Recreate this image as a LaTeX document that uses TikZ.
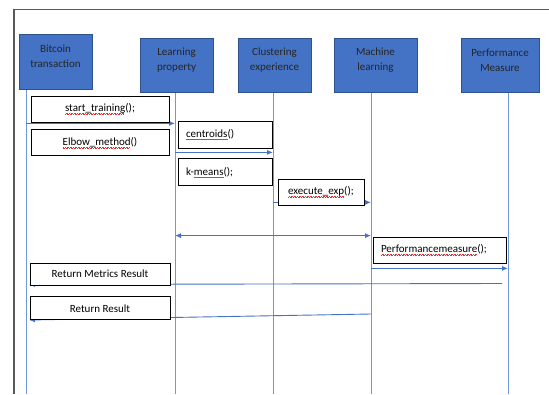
\documentclass[tikz,border=0pt]{standalone}
\usepackage{fontspec}
\setmainfont{Carlito}
\usetikzlibrary{arrows.meta,positioning,backgrounds}
\definecolor{actorfill}{HTML}{4472C4}
\definecolor{actordraw}{HTML}{2F528F}
\definecolor{lifeblue}{HTML}{6F97DA}
\definecolor{msgblue}{HTML}{4472C4}
\definecolor{framegray}{HTML}{595959}
\definecolor{spellred}{HTML}{E03030}
\definecolor{spellblue}{HTML}{3A6FD0}
\newsavebox{\spellbox}
\newcommand{\spellwave}[1]{\sbox{\spellbox}{#1}\rlap{\textcolor{spellred}{\hbox to \wd\spellbox{\leaders\hbox{\rule[-3.2pt]{0.8pt}{0.6pt}\rule[-2.4pt]{0.8pt}{0.6pt}}\hfill}}}#1}
\newcommand{\grammarline}[1]{\sbox{\spellbox}{#1}\rlap{\textcolor{spellblue}{\rule[-2.6pt]{\wd\spellbox}{0.6pt}}}#1}

\begin{document}
\begin{tikzpicture}[x=1pt,y=-1pt,
	font=\fontsize{11}{15}\selectfont,
	actor/.style={draw=actordraw, fill=actorfill, line width=0.8pt, minimum height=54pt},
	actorlabel/.style={align=center, text=black!85, yshift=5pt},
	msgbox/.style={draw=black, fill=white, line width=0.8pt, minimum height=26pt, inner xsep=8pt},
	leftbox/.style={msgbox, align=left},
	lifeline/.style={draw=lifeblue, line width=0.8pt},
	msg/.style={draw=msgblue, line width=0.9pt, -{Latex[length=6pt,width=5pt]}},
	twomsg/.style={msg, {Latex[length=6pt,width=5pt]}-{Latex[length=6pt,width=5pt]}}]
	\useasboundingbox (0,0) rectangle (549,394);
	
	\coordinate (f1) at (14,9.5);
	\coordinate (f2) at (549,9.5);
	\coordinate (f3) at (14,394);
	\draw[framegray, line width=1.2pt] (f2) -- (f1) -- (f3);
	
	\node[actor, minimum width=73pt, minimum height=55pt] (bt) at (55.5,61.5) {};
	\node[actorlabel] (bt-text) at (bt) {Bitcoin\\transaction};
	\node[actor, minimum width=73pt] (lp) at (176.5,65) {};
	\node[actorlabel] (lp-text) at (lp) {Learning\\property};
	\node[actor, minimum width=73pt] (ce) at (274.5,65) {};
	\node[actorlabel] (ce-text) at (ce) {Clustering\\experience};
	\node[actor, minimum width=83pt] (ml) at (375.5,65) {};
	\node[actorlabel] (ml-text) at (ml) {Machine\\learning};
	\node[actor, minimum width=78pt] (pm) at (500,65) {};
	\node[actorlabel] (pm-text) at (pm) {Performance\\Measure};
	
	\coordinate (bt-top) at (26,89);
	\coordinate (bt-bot) at (26,394);
	\coordinate (lp-top) at (175,92);
	\coordinate (lp-bot) at (175,394);
	\coordinate (ce-top) at (273,92);
	\coordinate (ce-bot) at (273,394);
	\coordinate (ml-top) at (371,92);
	\coordinate (ml-bot) at (371,394);
	\coordinate (pm-top) at (508,92);
	\coordinate (pm-bot) at (508,394);
	
	\node[msgbox, minimum width=138pt] (st) at (100,109) {\spellwave{start\_training}();};
	\node[msgbox, minimum width=138pt, below=7pt of st] (el) {\spellwave{Elbow\_method}()};
	\node[leftbox, text width=78pt, minimum height=27pt] (cen) at (225,134.5) {\grammarline{centroids}()};
	\node[leftbox, text width=78pt, minimum height=27pt, below=10pt of cen] (km) {k-\grammarline{means}();};
	\node[msgbox, minimum width=86pt] (ex) at (321,192) {\spellwave{execute\_exp}();};
	\node[leftbox, text width=117pt] (pf) at (439.5,250) {\spellwave{Performancemeasure}();};
	\node[msgbox, minimum width=140pt, minimum height=22pt] (rmr) at (100,274) {Return Metrics Result};
	\node[msgbox, minimum width=140pt, minimum height=23pt, below=11pt of rmr] (rr) {Return Result};
	
	\coordinate (rmr-from) at (502,283.5);
	\coordinate (rmr-to) at (29,284.5);
	\coordinate (rr-from) at (371,314);
	\coordinate (rr-to) at (29,320);
	
	\begin{scope}[on background layer]
		\draw[lifeline] (bt-top) -- (bt-bot);
		\draw[lifeline] (lp-top) -- (lp-bot);
		\draw[lifeline] (ce-top) -- (ce-bot);
		\draw[lifeline] (ml-top) -- (ml-bot);
		\draw[lifeline] (pm-top) -- (pm-bot);
		
		\draw[msg] ([yshift=-1pt]st.south -| bt-top) -- ([yshift=-1pt]st.south -| lp-top);
		\draw[msg] ([yshift=-4pt]cen.south -| lp-top) -- ([yshift=-4pt]cen.south -| ce-top);
		\draw[msg] ([yshift=3pt]ex.south -| ce-top) -- ([yshift=3pt]ex.south -| ml-top);
		\draw[twomsg] ([yshift=1pt]pf.north -| lp-top) -- ([yshift=1pt]pf.north -| ml-top);
		\draw[msg] ([yshift=-5pt]pf.south -| ml-top) -- ([yshift=-5pt]pf.south -| pm-top);
		\draw[msg] (rmr-from) -- (rmr-to);
		\draw[msg] (rr-from) -- (rr-to);
	\end{scope}
\end{tikzpicture}
\end{document}
